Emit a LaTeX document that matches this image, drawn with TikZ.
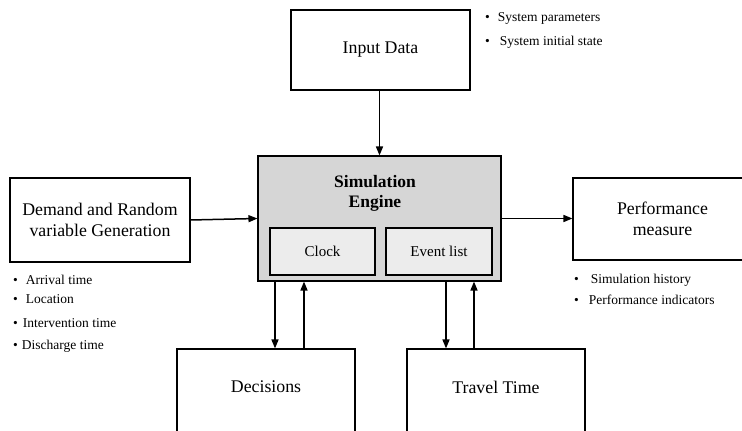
\documentclass[tikz,border=0pt]{standalone}
\usepackage{fontspec}
\setmainfont{Liberation Serif}
\usetikzlibrary{arrows.meta}
\definecolor{enginegray}{HTML}{D6D6D6}
\definecolor{cellgray}{HTML}{ECECEC}

\begin{document}
\begin{tikzpicture}[x=1pt,y=1pt,
    block/.style={draw,line width=1.1pt,align=center,font=\fontsize{17.8}{21}\selectfont},
    cell/.style={draw,line width=1.1pt,fill=cellgray,minimum width=105pt,minimum height=47pt,font=\fontsize{15}{18}\selectfont},
    arr/.style={-{Triangle[length=9pt,width=7pt]},line width=1.5pt},
    bul/.style={anchor=west,inner sep=0pt,font=\fontsize{13.5}{16}\selectfont}]
  \useasboundingbox (0,0) rectangle (742,431);

  % boxes
  \node[block,minimum width=179pt,minimum height=80pt] (input) at (380.5,381) {Input Data};
  \node[block,fill=enginegray,minimum width=243pt,minimum height=125pt] (engine) at (379.5,212.5) {};
  \node[font=\bfseries\fontsize{17.5}{20}\selectfont,align=center] (title) at (375,238) {Simulation\\Engine};
  \node[cell] (clock) at (322.5,179.5) {Clock};
  \node[cell,minimum width=106pt] (evlist) at (439,179.5) {Event list};
  \node[block,minimum width=180pt,minimum height=84pt] (demand) at (100,211) {Demand and Random\\variable Generation};
  \node[block,minimum width=179pt,minimum height=82pt] (perf) at (662.5,212) {Performance\\measure};
  \node[block,minimum width=178pt,minimum height=92pt] (decisions) at (266,36) {};
  \node at (266,44) {\fontsize{17.8}{21}\selectfont Decisions};
  \node[block,minimum width=178pt,minimum height=92pt] (travel) at (496,36) {};
  \node at (496,44) {\fontsize{17.8}{21}\selectfont Travel Time};

  % arrows
  \draw[arr] (input.south -| engine.north) -- (engine.north);
  \draw[arr] (demand.east) -- (engine.west);
  \draw[arr] (engine.east) -- (perf.west |- engine.east);

  \coordinate (d1) at ([xshift=9pt]decisions.north);
  \coordinate (d2) at ([xshift=38pt]decisions.north);
  \coordinate (t1) at ([xshift=-50pt]travel.north);
  \coordinate (t2) at ([xshift=-22pt]travel.north);
  \draw[arr] (d1 |- engine.south) -- (d1);
  \draw[arr] (d2) -- (d2 |- engine.south);
  \draw[arr] (t1 |- engine.south) -- (t1);
  \draw[arr] (t2) -- (t2 |- engine.south);

  % bullet lists
  \node[bul] (in1) at (485,413) {\textbullet\hspace{8pt}System parameters};
  \node[bul] (in2) at (485,389) {\textbullet\hspace{10pt}System initial state};
  \node[bul] (dm1) at (13,151) {\textbullet\hspace{8pt}Arrival time};
  \node[bul] (dm2) at (13,132) {\textbullet\hspace{8pt}Location};
  \node[bul] (dm3) at (13,108) {\textbullet\hspace{5pt}Intervention time};
  \node[bul] (dm4) at (13,85) {\textbullet\hspace{4pt}Discharge time};
  \node[bul] (pf1) at (574,151) {\textbullet\hspace{12pt}Simulation history};
  \node[bul] (pf2) at (574,131) {\textbullet\hspace{10pt}Performance indicators};
\end{tikzpicture}
\end{document}
